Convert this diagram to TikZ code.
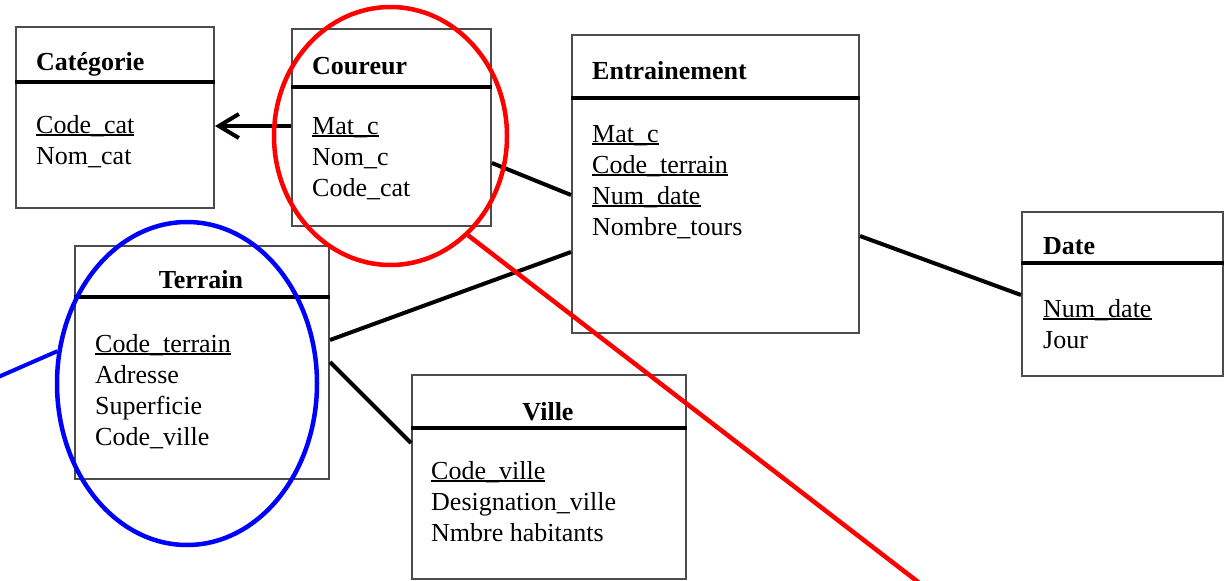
\documentclass[tikz,border=0pt]{standalone}
\usepackage{fontspec}
\setmainfont{Liberation Serif}
\usetikzlibrary{shapes.geometric,arrows.meta}
\newcommand{\cle}[1]{\setbox0\hbox{#1}\rlap{\rule[-3pt]{\wd0}{1.8pt}}\box0}
\newcommand{\champs}[1]{\begin{tabular}[t]{@{}l@{}}#1\end{tabular}}

\tikzset{
  entity/.style={draw=black!70, line width=2pt, inner sep=0pt, anchor=north west},
  titre/.style={font=\bfseries, anchor=base west, inner sep=0pt},
  attrs/.style={anchor=base west, inner sep=0pt},
  headline/.style={line width=4pt},
  link/.style={line width=4pt},
  ring/.style={ellipse, draw=#1, line width=4.5pt, inner sep=0pt},
}

\begin{document}
\fontsize{26}{31}\selectfont
\begin{tikzpicture}[x=1pt, y=-1pt]
\useasboundingbox (0,0) rectangle (1224,581);

% tables
\node[entity, minimum width=198pt, minimum height=181pt] (cat) at (15,26) {};
\node[entity, minimum width=199pt, minimum height=197pt] (cour) at (291,28) {};
\node[entity, minimum width=287pt, minimum height=298pt] (entr) at (571,34) {};
\node[entity, minimum width=201pt, minimum height=164pt] (date) at (1021,211) {};
\node[entity, minimum width=254pt, minimum height=233pt] (terr) at (74,245) {};
\node[entity, minimum width=274pt, minimum height=204pt] (ville) at (411,374) {};

\draw[headline] (cat.west |- 0,82) -- (cat.east |- 0,82);
\draw[headline] (cour.west |- 0,87) -- (cour.east |- 0,87);
\draw[headline] (entr.west |- 0,98) -- (entr.east |- 0,98);
\draw[headline] (date.west |- 0,263) -- (date.east |- 0,263);
\draw[headline] (terr.west |- 0,297) -- (terr.east |- 0,297);
\draw[headline] (ville.west |- 0,428) -- (ville.east |- 0,428);

% names and fields
\node[titre] (catname) at (36,70) {Catégorie};
\node[attrs] (catattr) at (36,133) {\champs{\cle{Code\_cat}\\Nom\_cat}};
\node[titre] (courname) at (312,74) {Coureur};
\node[attrs] (courattr) at (312,134) {\champs{\cle{Mat\_c}\\Nom\_c\\Code\_cat}};
\node[titre] (entrname) at (592,79) {Entrainement};
\node[attrs] (entrattr) at (592,142) {\champs{\cle{Mat\_c}\\\cle{Code\_terrain}\\\cle{Num\_date}\\Nombre\_tours}};
\node[titre] (datename) at (1043,254) {Date};
\node[attrs] (dateattr) at (1043,317) {\champs{\cle{Num\_date}\\Jour}};
\node[titre, anchor=base] (terrname) at (201,288) {Terrain};
\node[attrs] (terrattr) at (95,352) {\champs{\cle{Code\_terrain}\\Adresse\\Superficie\\Code\_ville}};
\node[titre, anchor=base] (villename) at (548,420) {Ville};
\node[attrs] (villeattr) at (431,479) {\champs{\cle{Code\_ville}\\Designation\_ville\\Nmbre habitants}};

% links
\draw[link, -{Straight Barb[length=20pt,width=24pt]}] (cour.west |- 0,126) -- (cat.east |- 0,126);
\draw[link] (cour.east |- 0,163) -- (entr.west |- 0,195);
\draw[link] (terr.east |- 0,340) -- (entr.west |- 0,252);
\draw[link] (terr.east |- 0,362) -- (ville.west |- 0,443);
\draw[link] (entr.east |- 0,236) -- (date.west |- 0,295);

% marks
\node[ring=red, minimum width=233pt, minimum height=258pt] (redring) at (390.5,136) {};
\node[ring=blue, minimum width=260pt, minimum height=323pt] (bluering) at (187,383.5) {};
\coordinate (redtail) at (922,585);
\coordinate (bluetail) at (-4,378);
\draw[red, line width=4.5pt] (redring.-52) -- (redtail);
\draw[blue, line width=4pt] (bluering.166) -- (bluetail);
\end{tikzpicture}
\end{document}
